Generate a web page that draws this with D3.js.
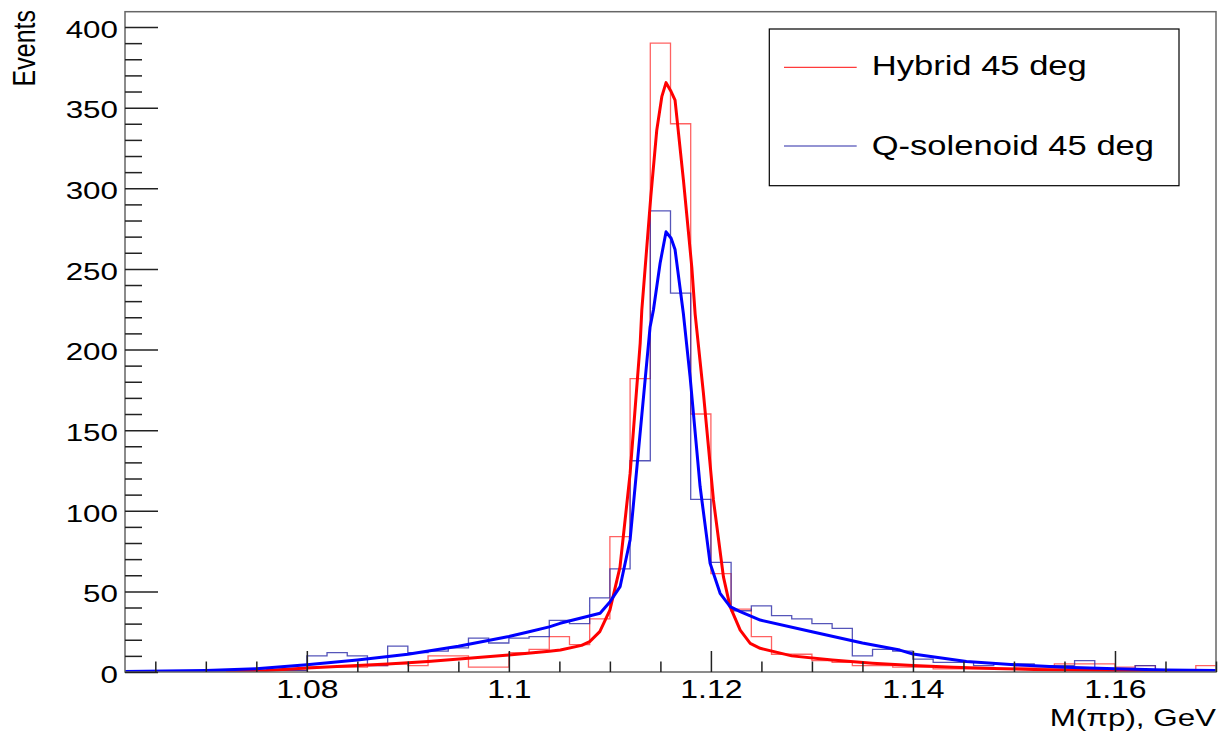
<!DOCTYPE html>
<html><head><meta charset="utf-8">
<script src="https://cdn.jsdelivr.net/npm/d3@7/dist/d3.min.js"></script>
<style>
html,body{margin:0;padding:0;background:#fff;}
text{font-family:"Liberation Sans",Arial,Helvetica,sans-serif;fill:#000;}
</style></head>
<body>
<svg id="c" width="1218" height="732"></svg>
<script>
// ---------- data ----------
const binLow0 = 1.062, binWidth = 0.002, nBins = 54;
const binStarts = d3.range(nBins).map(i => +(binLow0 + i * binWidth).toFixed(3));
const hybridCounts = [0,0,0,0,0,0,0,1,1,3, 3,3,4,5,4,10,10,3,3,12, 14,22,17,33,84,182,390,340,160,61, 39,22,11,11,7,6,4,4,3,3, 2,2,2,2,3,3,5,5,5,3, 4,1,1,4];
const qsolCounts   = [0,0,0,0,0,0,0,1,1,10, 12,10,4,16,12,13,15,21,18,21, 22,32,30,46,64,131,286,235,107,68, 38,41,35,33,30,27,10,14,13,8, 6,6,4,5,5,4,4,7,2,2, 4,1,1,1];
const hybridFitX = [1.072,1.076,1.08,1.084,1.088,1.092,1.096,1.1,1.104,1.1051,1.1072,1.1080,1.1090,1.1100,1.1110,1.1120,1.1130,1.11316,1.11405,1.11464,1.11514,1.11556,1.11606,1.11645,1.11728,1.11811,1.11844,1.11926,1.12025,1.12124,1.1219,1.1229,1.12389,1.12488,1.128,1.132,1.136,1.14,1.144,1.148,1.152,1.156,1.16,1.165,1.17];
const hybridFitY = [0.3,1,2.5,3.7,5,6.5,8.5,10.5,12.8,13.6,16.5,18.8,25,38.4,65,123,204,224.5,294.8,336,356.8,365.5,360,354.7,305,251,222,172.8,106.7,59,40.5,26,17.8,14.7,10,7.5,5.5,4,3,2.2,1.6,1.2,1,0.8,0.7];
const qsolFitX = [1.062,1.066,1.07,1.075,1.08,1.085,1.09,1.095,1.1,1.102,1.104,1.10507,1.10705,1.10903,1.11002,1.11101,1.112,1.11299,1.11398,1.11431,1.11497,1.11556,1.11606,1.11645,1.11728,1.11794,1.11893,1.11992,1.12091,1.1219,1.1229,1.12488,1.13,1.135,1.1387,1.14,1.1453,1.1506,1.155,1.16,1.165,1.17];
const qsolFitY = [0.3,0.6,1,2,4.5,7.5,11,16,22,25,28,30.2,33.3,36.4,43.6,52.9,81.9,148,214,224.5,253.5,273,269,262,222,183,115,67.4,48.8,40.5,37.4,32.2,25,18,13.6,11.2,6.5,4.3,3,2,1.3,1];
const yMajorTicks = [0,50,100,150,200,250,300,350,400];
const xMajorTicks = [1.08,1.1,1.12,1.14,1.16];
const xTickLabels = ["1.08","1.1","1.12","1.14","1.16"];
const legendLabels = ["Hybrid 45 deg","Q-solenoid 45 deg"];
const seriesColors = {hist:["#ff3b3b","#2b2ba8"], fit:["#ff0000","#0000ff"]};

// ---------- layout ----------
const L = 125, R = 1216, T = 11.7, B = 672;
const SX = 1.28; // horizontal stretch of text in reference
const svg = d3.select("#c");
const x = d3.scaleLinear().domain([1.062, 1.17]).range([L, R]);
const y = d3.scaleLinear().domain([0, 409.5]).range([B, T]);

svg.append("defs").append("clipPath").attr("id","clip")
  .append("rect").attr("x",L).attr("y",T).attr("width",R-L).attr("height",B-T);

function histPath(counts){
  const pts = binStarts.map((b,i)=>[b,counts[i]]);
  pts.push([+(binStarts[nBins-1]+binWidth).toFixed(3), counts[nBins-1]]);
  return d3.line().x(d=>x(d[0])).y(d=>y(d[1])).curve(d3.curveStepAfter)(pts);
}
const g = svg.append("g").attr("clip-path","url(#clip)");
g.append("path").attr("d",histPath(hybridCounts)).attr("fill","none")
  .attr("stroke",seriesColors.hist[0]).attr("stroke-width",1.3).attr("stroke-opacity",0.8);
g.append("path").attr("d",histPath(qsolCounts)).attr("fill","none")
  .attr("stroke",seriesColors.hist[1]).attr("stroke-width",1.3).attr("stroke-opacity",0.8);
const fitLine = d3.line().x(d=>x(d[0])).y(d=>y(d[1]));
g.append("path").attr("d",fitLine(hybridFitX.map((v,i)=>[v,hybridFitY[i]]))).attr("fill","none")
  .attr("stroke",seriesColors.fit[0]).attr("stroke-width",3).attr("stroke-linejoin","round");
g.append("path").attr("d",fitLine(qsolFitX.map((v,i)=>[v,qsolFitY[i]]))).attr("fill","none")
  .attr("stroke",seriesColors.fit[1]).attr("stroke-width",3).attr("stroke-linejoin","round");

// frame
svg.append("rect").attr("x",L).attr("y",T).attr("width",R-L).attr("height",B-T)
  .attr("fill","none").attr("stroke","#666").attr("stroke-width",1.5);

// x axis
const xMinor = d3.range(1.065, 1.1701, 0.005).map(v=>+v.toFixed(3)).filter(v=>!xMajorTicks.some(m=>Math.abs(m-v)<1e-6));
const xAxisG = svg.append("g").attr("transform",`translate(0,${B})`)
  .call(d3.axisBottom(x).tickValues(xMajorTicks).tickSize(-21).tickPadding(8)
        .tickFormat((d,i)=>xTickLabels[i]));
xAxisG.select(".domain").remove();
xAxisG.selectAll(".tick line").attr("stroke","#222").attr("stroke-width",1.5);
xAxisG.selectAll(".tick text").attr("font-size",25).attr("font-family","Liberation Sans")
  .attr("transform",`scale(${SX},1)`).attr("fill","#000");
const xMinG = svg.append("g").attr("transform",`translate(0,${B})`)
  .call(d3.axisBottom(x).tickValues(xMinor).tickSize(-10.5).tickFormat(""));
xMinG.select(".domain").remove();
xMinG.selectAll(".tick line").attr("stroke","#222").attr("stroke-width",1.5);

// y axis
const yMinor = d3.range(10, 410, 10).filter(v=>v%50!==0);
const yAxisG = svg.append("g").attr("transform",`translate(${L},0)`)
  .call(d3.axisLeft(y).tickValues(yMajorTicks).tickSize(-33).tickPadding(5.5));
yAxisG.select(".domain").remove();
yAxisG.selectAll(".tick line").attr("stroke","#222").attr("stroke-width",1.5);
yAxisG.selectAll(".tick text").attr("font-size",24.5).attr("font-family","Liberation Sans")
  .attr("dy","0.42em").attr("transform",`scale(${SX},1)`).attr("fill","#000");
const yMinG = svg.append("g").attr("transform",`translate(${L},0)`)
  .call(d3.axisLeft(y).tickValues(yMinor).tickSize(-17).tickFormat(""));
yMinG.select(".domain").remove();
yMinG.selectAll(".tick line").attr("stroke","#222").attr("stroke-width",1.5);

// axis titles
svg.append("text").attr("transform",`translate(${R},726) scale(${SX},1)`)
  .attr("text-anchor","end").attr("font-size",24.5).text("M(πp), GeV");
svg.append("text").attr("transform",`translate(35,10) scale(${SX},1) rotate(-90)`)
  .attr("text-anchor","end").attr("font-size",25).text("Events");

// legend
const leg = svg.append("g");
leg.append("rect").attr("x",769.3).attr("y",29).attr("width",1179-769.3).attr("height",185.7-29)
  .attr("fill","#fff").attr("stroke","#000").attr("stroke-width",1.2);
const legY = [67.3,146];
const legBase = [75,155];
legendLabels.forEach((lab,i)=>{
  leg.append("line").attr("x1",784).attr("x2",856.7).attr("y1",legY[i]).attr("y2",legY[i])
    .attr("stroke",seriesColors.hist[i]).attr("stroke-width",1.2);
  leg.append("text").attr("transform",`translate(871.7,${legBase[i]}) scale(${SX},1)`)
    .attr("font-size",27).text(lab);
});
</script>
</body></html>
